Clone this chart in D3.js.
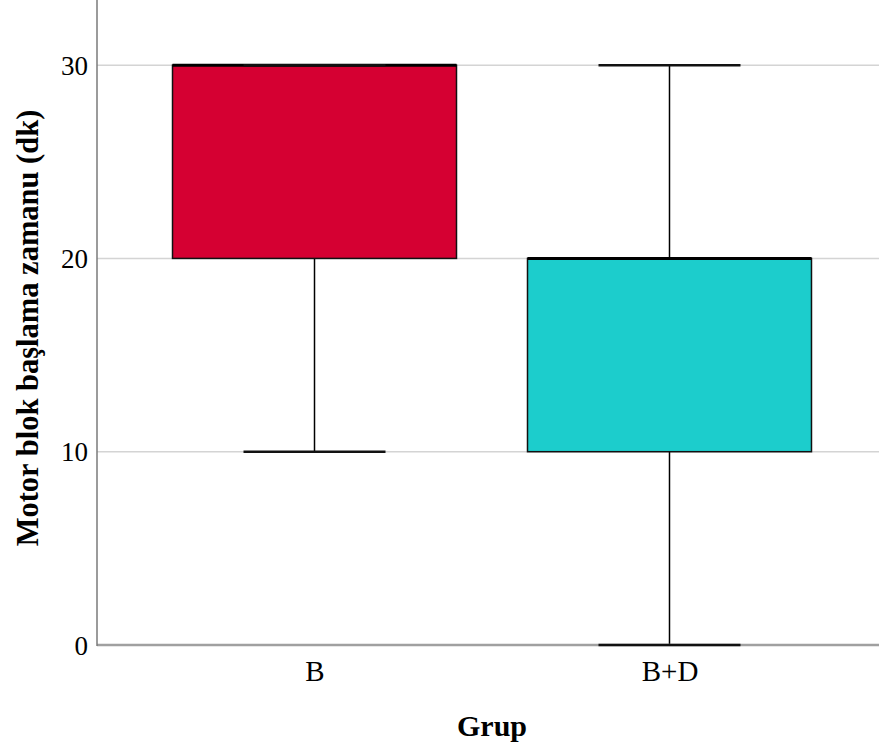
<!DOCTYPE html>
<html>
<head>
<meta charset="utf-8">
<script src="https://cdn.jsdelivr.net/npm/d3@7"></script>
<style>
  html, body { margin: 0; padding: 0; background: #fff; }
  svg { display: block; }
</style>
</head>
<body>
<svg id="chart" width="879" height="753"></svg>
<script>
// ---- data ----
const categories = ["B", "B+D"];
const whiskerLow = [10, 0];
const q1 = [20, 10];
const median = [30, 20];
const q3 = [30, 20];
const whiskerHigh = [30, 30];
const yTicks = [0, 10, 20, 30];
const boxColors = ["#d50032", "#1ccdcc"];
const xTitle = "Grup";
const yTitle = "Motor blok başlama zamanu (dk)";

// ---- layout ----
const W = 879, H = 753;
const mLeft = 97, mBottom = 645, mTop = 0, mRight = 887;
const serif = "'Liberation Serif', 'Times New Roman', Times, serif";

const svg = d3.select("#chart");

const y = d3.scaleLinear().domain([0, 33.37]).range([mBottom, mTop]);
const x = d3.scalePoint().domain(categories).range([mLeft, mRight]).padding(0.6127);
const step = x.step();
const boxW = step * 0.8;
const capW = step * 0.4;

// gridlines
svg.append("g")
  .selectAll("line")
  .data(yTicks.filter(d => d > 0))
  .join("line")
  .attr("x1", mLeft).attr("x2", W)
  .attr("y1", d => y(d)).attr("y2", d => y(d))
  .attr("stroke", "#d4d4d4").attr("stroke-width", 1.5);

// axes
const yAxis = svg.append("g")
  .attr("transform", `translate(${mLeft},0)`)
  .call(d3.axisLeft(y).tickValues(yTicks).tickSize(0).tickPadding(9));
yAxis.select(".domain").remove();
yAxis.selectAll("text")
  .attr("font-family", serif)
  .attr("font-size", 27).attr("fill", "#000").attr("dy", "0.34em");

const xAxis = svg.append("g")
  .attr("transform", `translate(0,${mBottom})`)
  .call(d3.axisBottom(x).tickSize(0).tickPadding(15));
xAxis.select(".domain").remove();
xAxis.selectAll("text")
  .attr("font-family", serif)
  .attr("font-size", 29).attr("fill", "#000");

// boxes
const groups = svg.append("g")
  .selectAll("g")
  .data(categories.map((c, i) => ({c, i})))
  .join("g");

// whiskers
groups.append("line")
  .attr("x1", d => x(d.c)).attr("x2", d => x(d.c))
  .attr("y1", d => y(whiskerLow[d.i])).attr("y2", d => y(q1[d.i]))
  .attr("stroke", "#000").attr("stroke-width", 1.5);
groups.append("line")
  .attr("x1", d => x(d.c)).attr("x2", d => x(d.c))
  .attr("y1", d => y(whiskerHigh[d.i])).attr("y2", d => y(q3[d.i]))
  .attr("stroke", "#000").attr("stroke-width", 1.5);

// axis lines
svg.append("line")
  .attr("x1", mLeft).attr("x2", W)
  .attr("y1", mBottom).attr("y2", mBottom)
  .attr("stroke", "#a0a0a0").attr("stroke-width", 2.5);
svg.append("line")
  .attr("x1", mLeft).attr("x2", mLeft)
  .attr("y1", mTop).attr("y2", mBottom + 1)
  .attr("stroke", "#7a7a7a").attr("stroke-width", 1.5);

// caps
const caps = svg.append("g");
caps.selectAll("line.low")
  .data(categories.map((c, i) => ({c, i})))
  .join("line").attr("class", "low")
  .attr("x1", d => x(d.c) - capW / 2).attr("x2", d => x(d.c) + capW / 2)
  .attr("y1", d => y(whiskerLow[d.i])).attr("y2", d => y(whiskerLow[d.i]))
  .attr("stroke", "#111").attr("stroke-width", 2.5);
caps.selectAll("line.high")
  .data(categories.map((c, i) => ({c, i})))
  .join("line").attr("class", "high")
  .attr("x1", d => x(d.c) - capW / 2).attr("x2", d => x(d.c) + capW / 2)
  .attr("y1", d => y(whiskerHigh[d.i])).attr("y2", d => y(whiskerHigh[d.i]))
  .attr("stroke", "#111").attr("stroke-width", 2.5);

// box
groups.append("rect")
  .attr("x", d => x(d.c) - boxW / 2)
  .attr("width", boxW)
  .attr("y", d => y(q3[d.i]))
  .attr("height", d => y(q1[d.i]) - y(q3[d.i]))
  .attr("fill", d => boxColors[d.i])
  .attr("stroke", "#111").attr("stroke-width", 1.5);

// median
groups.append("line")
  .attr("x1", d => x(d.c) - boxW / 2).attr("x2", d => x(d.c) + boxW / 2)
  .attr("y1", d => y(median[d.i])).attr("y2", d => y(median[d.i]))
  .attr("stroke", "#000").attr("stroke-width", 3);

// titles
svg.append("text")
  .attr("x", (x("B") + x("B+D")) / 2)
  .attr("y", 736)
  .attr("text-anchor", "middle")
  .attr("font-family", serif)
  .attr("font-weight", "bold").attr("font-size", 30)
  .text(xTitle);

svg.append("text")
  .attr("transform", `translate(38,328) rotate(-90)`)
  .attr("text-anchor", "middle")
  .attr("font-family", serif)
  .attr("font-weight", "bold").attr("font-size", 30.5)
  .text(yTitle);
</script>
</body>
</html>
